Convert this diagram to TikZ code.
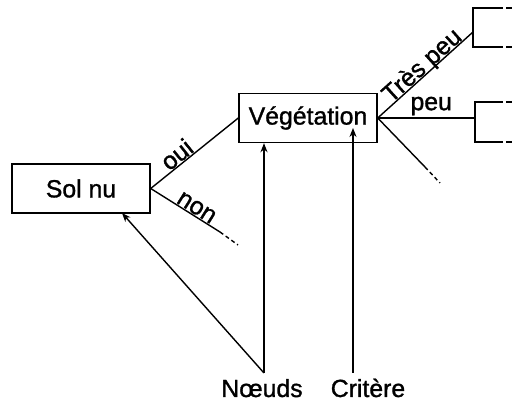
\documentclass[tikz,border=0pt]{standalone}
\usepackage{fontspec}
\setmainfont{Liberation Sans}[FakeBold=1.2]
\usetikzlibrary{arrows.meta}
\begin{document}
\begin{tikzpicture}[x=1pt,y=-1pt, line width=1.4pt,
  box/.style={draw, minimum width=138pt, minimum height=49pt, inner sep=0pt, font=\fontsize{24.8}{28}\selectfont},
  lbl/.style={font=\fontsize{24.8}{28}\selectfont, inner sep=1pt},
  onl/.style={lbl, sloped, anchor=base, inner sep=0pt, yshift=1.5pt},
  arr/.style={-{Stealth[length=9pt,width=7pt]}}]
\useasboundingbox (0,0) rectangle (515,403);
% main nodes
\node[box] (sol) at (81,188.5) {Sol nu};
\node[box] (veg) at (308,118) {Végétation};
% branches from Sol nu
\draw (sol.east) -- node[onl, pos=0.37] {oui} (veg.west);
\coordinate (nonmid) at (220,232);
\coordinate (nonend) at (238,245);
\draw (sol.east) -- node[onl, pos=0.6] {non} (nonmid);
\draw[dashed, dash pattern=on 4pt off 3pt] (nonmid) -- (nonend);
% branches from Végétation
\coordinate (tp) at (473,32);
\coordinate (pe) at (475,118);
\draw (veg.east) -- node[onl, pos=0.53] {Très peu} (tp);
\draw (veg.east) -- node[lbl, above, pos=0.55, inner sep=2pt] {peu} (pe);
\coordinate (thmid) at (425,167);
\coordinate (thend) at (440,183);
\draw (veg.east) -- (thmid);
\draw[dashed, dash pattern=on 4pt off 3pt] (thmid) -- (thend);
% partial boxes at right
\draw (497,8) -- (473,8) -- (473,47) -- (497,47);
\draw[dash pattern=on 6pt off 3pt] (497,8) -- (515,8) (497,47) -- (515,47);
\draw (497,102) -- (475,102) -- (475,142) -- (497,142);
\draw[dash pattern=on 6pt off 3pt] (497,102) -- (515,102) (497,142) -- (515,142);
% bottom labels and arrows
\node[lbl, anchor=base] (noeuds) at (262,397) {Nœuds};
\node[lbl, anchor=base] (critere) at (368,397) {Critère};
\coordinate (nroot) at (264,373);
\coordinate (croot) at (353,373);
\coordinate (solin) at (122,213);
\coordinate (critpt) at (353,128);
\draw[arr] (nroot) -- (nroot |- veg.south);
\draw[arr] (nroot) -- (solin);
\draw[arr] (croot) -- (critpt);
\end{tikzpicture}
\end{document}
